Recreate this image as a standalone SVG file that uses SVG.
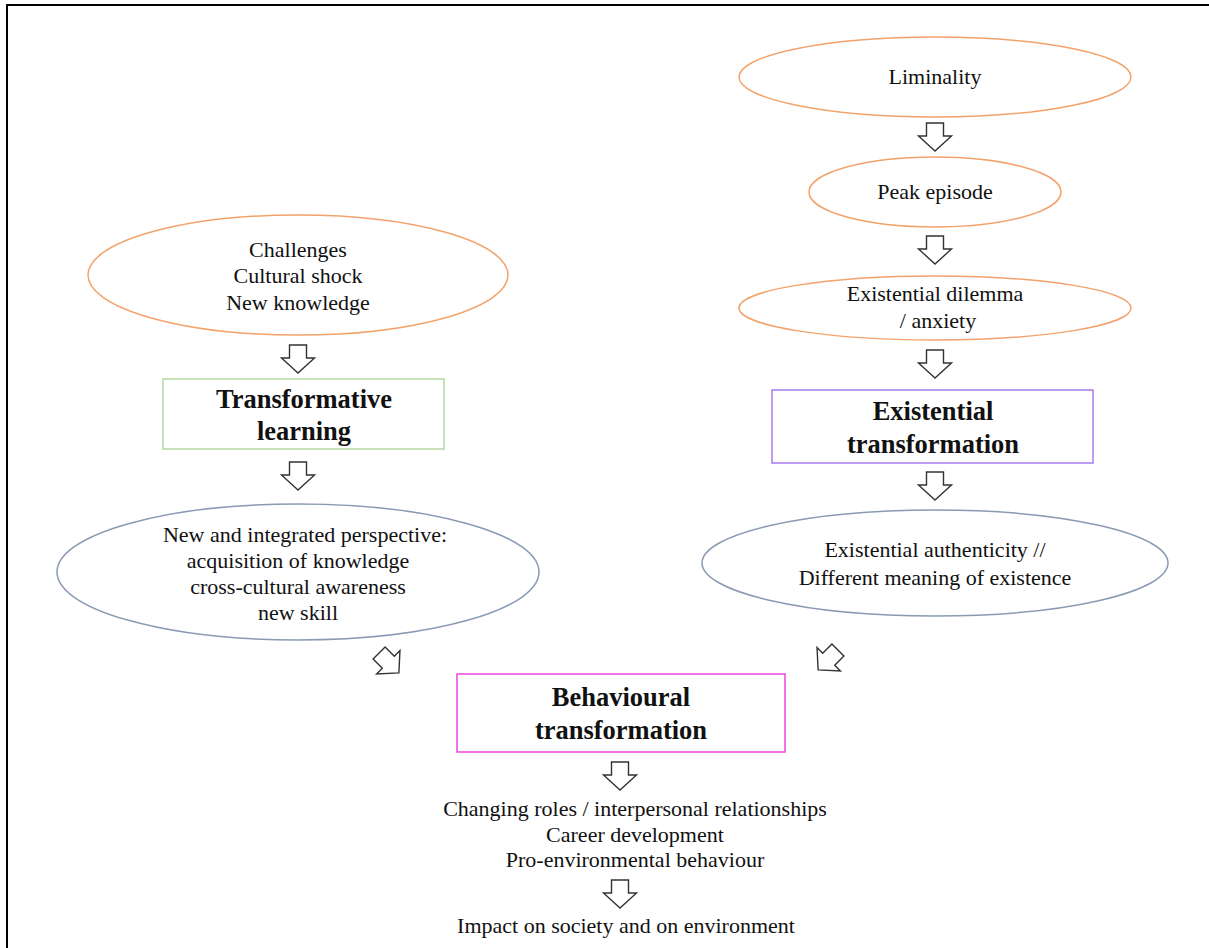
<svg xmlns="http://www.w3.org/2000/svg" width="1209" height="948" viewBox="0 0 1209 948">
<style>
  text { font-family: "Liberation Serif", "Times New Roman", serif; fill: #111; text-anchor: middle; }
  .t { font-size: 22px; }
  .b { font-size: 26.5px; font-weight: bold; }
  .orange { fill: none; stroke: #f2a36c; stroke-width: 1.5; }
  .blue { fill: none; stroke: #8a9ab3; stroke-width: 1.5; }
  .arrow { fill: #fff; stroke: #333; stroke-width: 1.4; stroke-linejoin: miter; }
</style>
<defs>
  <path id="down" d="M-8.5,0 H8.5 V13 H16.5 L0,28 L-16.5,13 H-8.5 Z"/>
</defs>
<rect x="0" y="0" width="1209" height="948" fill="#fff"/>
<path d="M7,948 V5 H1209" fill="none" stroke="#000" stroke-width="2"/>

<g id="liminality"><ellipse class="orange" cx="935" cy="77" rx="196" ry="40"/><text class="t" x="935" y="84">Liminality</text></g>
<g id="peak"><ellipse class="orange" cx="935" cy="192" rx="126" ry="35"/><text class="t" x="935" y="199">Peak episode</text></g>
<g id="dilemma"><ellipse class="orange" cx="935" cy="308" rx="196" ry="32"/><text class="t" x="935" y="301">Existential dilemma</text><text class="t" x="938" y="328">/ anxiety</text></g>
<g id="existential"><rect x="772" y="390" width="321" height="73" fill="none" stroke="#a77cf0" stroke-width="1.5"/><text class="b" x="933" y="420">Existential</text><text class="b" x="933" y="453">transformation</text></g>
<g id="authenticity"><ellipse class="blue" cx="935" cy="563" rx="233" ry="53"/><text class="t" x="935" y="557">Existential authenticity //</text><text class="t" x="935" y="585">Different meaning of existence</text></g>

<g id="challenges"><ellipse class="orange" cx="298" cy="275" rx="210" ry="60"/><text class="t" x="298" y="257">Challenges</text><text class="t" x="298" y="283">Cultural shock</text><text class="t" x="298" y="310">New knowledge</text></g>
<g id="transformative"><rect x="163" y="379" width="281" height="70" fill="none" stroke="#b5d9a0" stroke-width="1.5"/><text class="b" x="304" y="408">Transformative</text><text class="b" x="304" y="440">learning</text></g>
<g id="perspective"><ellipse class="blue" cx="298" cy="572" rx="241" ry="68"/><text class="t" x="305" y="542">New and integrated perspective:</text><text class="t" x="298" y="568">acquisition of knowledge</text><text class="t" x="298" y="594">cross-cultural awareness</text><text class="t" x="298" y="620">new skill</text></g>

<g id="behavioural"><rect x="457" y="674" width="328" height="78" fill="none" stroke="#ee44e0" stroke-width="1.5"/><text class="b" x="621" y="706">Behavioural</text><text class="b" x="621" y="739">transformation</text></g>
<g id="outcomes"><text class="t" x="635" y="816">Changing roles / interpersonal relationships</text><text class="t" x="635" y="842">Career development</text><text class="t" x="635" y="867">Pro-environmental behaviour</text></g>
<g id="impact"><text class="t" x="626" y="933">Impact on society and on environment</text></g>

<g id="connectors">
  <use href="#down" class="arrow" transform="translate(935,123)"/>
  <use href="#down" class="arrow" transform="translate(935,236)"/>
  <use href="#down" class="arrow" transform="translate(935,350)"/>
  <use href="#down" class="arrow" transform="translate(935,472)"/>
  <use href="#down" class="arrow" transform="translate(298,345)"/>
  <use href="#down" class="arrow" transform="translate(298,462)"/>
  <use href="#down" class="arrow" transform="translate(389,663) rotate(-45) translate(0,-14)"/>
  <use href="#down" class="arrow" transform="translate(828,660) rotate(45) translate(0,-14)"/>
  <use href="#down" class="arrow" transform="translate(620,762)"/>
  <use href="#down" class="arrow" transform="translate(620,880)"/>
</g>
</svg>
